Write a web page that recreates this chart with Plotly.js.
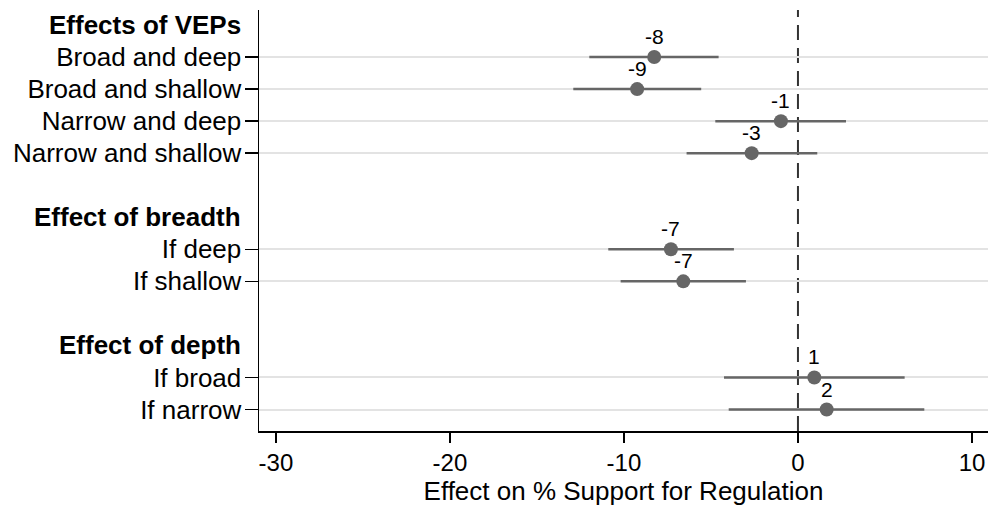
<!DOCTYPE html>
<html>
<head>
<meta charset="utf-8">
<script src="https://cdn.plot.ly/plotly-3.0.1.min.js"></script>
<style>html,body{margin:0;padding:0;background:#fff;}#chart{width:988px;height:506px;}</style>
</head>
<body>
<div id="chart"></div>
<script>
// Row labels (row index from top), headers are separate
const headers = ["Effects of VEPs", "Effect of breadth", "Effect of depth"];
const headerRows = [0, 6, 10];
const categories = ["Broad and deep", "Broad and shallow", "Narrow and deep", "Narrow and shallow",
                    "If deep", "If shallow", "If broad", "If narrow"];
const rows = [1, 2, 3, 4, 7, 8, 11, 12];
const estimates = [-8.26, -9.24, -0.98, -2.66, -7.30, -6.59, 0.94, 1.65];
const ciLow = [-11.99, -12.91, -4.75, -6.40, -10.90, -10.19, -4.25, -3.98];
const ciHigh = [-4.56, -5.56, 2.76, 1.11, -3.68, -2.99, 6.13, 7.26];
const pointLabels = ["-8", "-9", "-1", "-3", "-7", "-7", "1", "2"];
const xTicks = [-30, -20, -10, 0, 10];

const FONT = "Liberation Sans, Arial, Helvetica, sans-serif";

const trace = {
  type: "scatter",
  mode: "markers",
  x: estimates,
  y: rows,
  marker: {color: "#666666", size: 14},
  error_x: {
    type: "data",
    symmetric: false,
    array: estimates.map((v, i) => ciHigh[i] - v),
    arrayminus: estimates.map((v, i) => v - ciLow[i]),
    color: "#666666",
    thickness: 2.5,
    width: 0
  },
  hoverinfo: "skip",
  cliponaxis: false,
  showlegend: false
};

const headerAnns = headers.map((h, i) => ({
  text: "<b>" + h + "</b>",
  xref: "paper", yref: "y",
  x: 0, y: headerRows[i],
  xanchor: "right", yanchor: "middle",
  xshift: -16,
  showarrow: false,
  font: {family: FONT, size: 26, color: "#000"}
}));

const pointAnns = estimates.map((v, i) => ({
  text: pointLabels[i],
  xref: "x", yref: "y",
  x: v, y: rows[i],
  xanchor: "center", yanchor: "bottom",
  yshift: 8,
  borderpad: 0,
  showarrow: false,
  font: {family: FONT, size: 21, color: "#000"}
}));

const layout = {
  width: 988,
  height: 506,
  margin: {l: 259, r: 0, t: 10, b: 75},
  paper_bgcolor: "#fff",
  plot_bgcolor: "#fff",
  font: {family: FONT, color: "#000"},
  showlegend: false,
  xaxis: {
    range: [-30.97, 10.92],
    tickvals: xTicks,
    ticktext: xTicks.map(String),
    ticks: "outside",
    ticklen: 10,
    tickwidth: 1.5,
    tickcolor: "#000",
    tickfont: {family: FONT, size: 24, color: "#000"},
    showgrid: false,
    zeroline: false,
    showline: true,
    linecolor: "#000",
    linewidth: 1.5,
    title: {text: "Effect on % Support for Regulation", font: {family: FONT, size: 26, color: "#000"}, standoff: 4},
    automargin: false
  },
  yaxis: {
    range: [12.67, -0.468],
    tickvals: rows,
    ticktext: categories,
    ticks: "outside",
    ticklen: 13,
    tickwidth: 1.5,
    tickcolor: "#000",
    tickfont: {family: FONT, size: 26, color: "#000"},
    ticklabelstandoff: -2,
    showgrid: true,
    gridcolor: "#e3e3e3",
    gridwidth: 2,
    zeroline: false,
    showline: true,
    linecolor: "#000",
    linewidth: 1.5,
    automargin: false
  },
  shapes: [{
    type: "line", xref: "x", yref: "paper",
    x0: 0, x1: 0, y0: 0, y1: 1,
    line: {color: "#333", width: 2, dash: "15px,8px"},
    layer: "below"
  }],
  annotations: headerAnns.concat(pointAnns)
};

Plotly.newPlot("chart", [trace], layout, {displayModeBar: false, staticPlot: true});
</script>
</body>
</html>
